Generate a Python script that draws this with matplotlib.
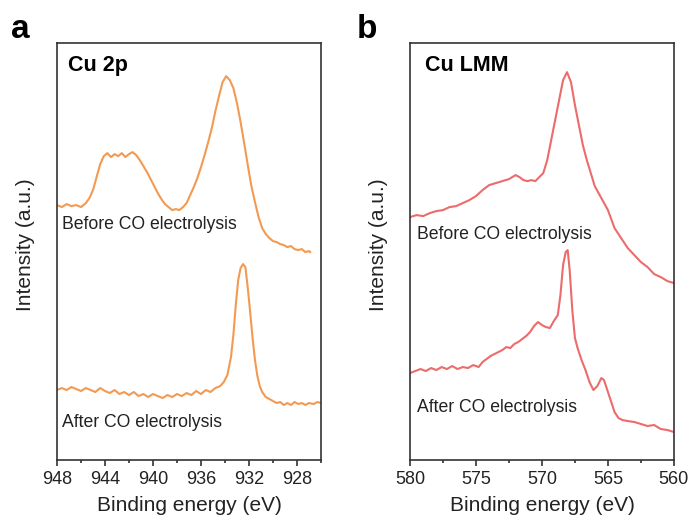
import numpy as np
import matplotlib.pyplot as plt
from matplotlib.ticker import MultipleLocator

plt.rcParams['font.family'] = ['Liberation Sans', 'DejaVu Sans']

# Cu 2p region, binding energy (eV) and intensity (a.u.)
cu2p_before_x = [948.0, 947.6, 947.2, 946.8, 946.4, 946.0, 945.6, 945.3, 945.0, 944.7,
                 944.4, 944.1, 943.8, 943.5, 943.2, 942.9, 942.6, 942.3, 942.0, 941.7,
                 941.4, 941.1, 940.8, 940.5, 940.2, 939.9, 939.6, 939.3, 939.0, 938.7,
                 938.4, 938.1, 937.8, 937.5, 937.2, 936.9, 936.6, 936.3, 936.0, 935.7,
                 935.4, 935.1, 934.8, 934.5, 934.2, 933.9, 933.6, 933.3, 933.0, 932.7,
                 932.4, 932.1, 931.8, 931.5, 931.2, 930.9, 930.6, 930.3, 930.0, 929.7,
                 929.4, 929.1, 928.8, 928.5, 928.2, 927.9, 927.6, 927.3, 927.0, 926.9]
cu2p_before_y = [255, 253, 256, 254, 255, 253, 257, 262, 270, 283,
                 296, 304, 307, 303, 306, 304, 307, 303, 306, 308,
                 305, 300, 294, 288, 281, 274, 267, 261, 256, 253,
                 250, 251, 250, 253, 257, 265, 273, 282, 293, 305,
                 318, 332, 349, 364, 378, 384, 380, 372, 357, 338,
                 317, 295, 274, 258, 243, 232, 226, 222, 219, 218,
                 216, 215, 213, 214, 211, 210, 211, 208, 209, 208]

cu2p_after_x = [948.0, 947.6, 947.2, 946.8, 946.4, 946.0, 945.6, 945.2, 944.8, 944.4,
                944.0, 943.6, 943.2, 942.8, 942.4, 942.0, 941.6, 941.2, 940.8, 940.4,
                940.0, 939.6, 939.2, 938.8, 938.4, 938.0, 937.6, 937.2, 936.8, 936.4,
                936.0, 935.6, 935.2, 934.8, 934.4, 934.1, 933.8, 933.5, 933.3, 933.1,
                932.9, 932.7, 932.5, 932.3, 932.1, 931.9, 931.7, 931.5, 931.3, 931.1,
                930.9, 930.6, 930.3, 930.0, 929.7, 929.4, 929.1, 928.8, 928.5, 928.2,
                927.9, 927.6, 927.3, 927.0, 926.6, 926.3, 926.0]
cu2p_after_y = [70, 72, 70, 73, 71, 69, 72, 70, 68, 72,
                69, 67, 70, 66, 68, 65, 68, 64, 66, 63,
                66, 64, 62, 65, 63, 66, 64, 67, 65, 69,
                66, 70, 68, 72, 74, 78, 85, 103, 125, 155,
                180, 192, 196, 193, 172, 148, 122, 100, 84, 74,
                68, 63, 61, 59, 57, 58, 55, 57, 55, 58,
                56, 57, 55, 57, 56, 58, 57]

# Cu LMM Auger region
lmm_before_x = [580.0, 579.5, 579.0, 578.5, 578.0, 577.5, 577.0, 576.5, 576.0, 575.5,
                575.0, 574.5, 574.0, 573.5, 573.0, 572.5, 572.0, 571.7, 571.4, 571.1,
                570.8, 570.5, 570.2, 569.9, 569.6, 569.3, 569.0, 568.7, 568.4, 568.1,
                567.8, 567.5, 567.2, 566.9, 566.6, 566.3, 566.0, 565.5, 565.0, 564.5,
                564.0, 563.5, 563.0, 562.5, 562.0, 561.5, 561.0, 560.5, 560.0]
lmm_before_y = [243, 245, 244, 247, 249, 250, 253, 254, 257, 260,
                264, 270, 275, 277, 279, 281, 285, 283, 280, 279,
                280, 279, 283, 287, 300, 320, 340, 360, 380, 388,
                378, 355, 335, 315, 300, 287, 274, 262, 250, 232,
                222, 212, 205, 198, 193, 186, 183, 179, 177]

lmm_after_x = [580.0, 579.6, 579.2, 578.8, 578.4, 578.0, 577.6, 577.2, 576.8, 576.4,
               576.0, 575.6, 575.2, 574.8, 574.5, 574.2, 573.9, 573.6, 573.3, 573.0,
               572.7, 572.4, 572.1, 571.8, 571.5, 571.2, 570.9, 570.6, 570.3, 570.0,
               569.7, 569.4, 569.1, 568.8, 568.6, 568.4, 568.2, 568.05, 567.9, 567.7,
               567.5, 567.3, 567.0, 566.7, 566.4, 566.1, 565.8, 565.5, 565.3, 565.1,
               564.8, 564.5, 564.2, 563.9, 563.5, 563.0, 562.5, 562.0, 561.5, 561.0,
               560.5, 560.0]
lmm_after_y = [87, 89, 91, 89, 92, 90, 93, 91, 94, 91,
               93, 92, 95, 93, 98, 101, 104, 106, 108, 110,
               113, 112, 116, 118, 121, 124, 128, 134, 138, 135,
               133, 132, 139, 145, 165, 195, 208, 210, 190, 150,
               122, 112, 100, 90, 78, 70, 74, 82, 80, 72,
               60, 48, 42, 40, 39, 38, 36, 34, 35, 31,
               30, 28]

orange = '#f39a52'
red = '#ec6b6b'

fig = plt.figure(figsize=(6.91, 5.25), dpi=100)
ax1 = fig.add_axes([0.0825, 0.1238, 0.382, 0.794])
ax2 = fig.add_axes([0.5933, 0.1238, 0.382, 0.794])

ax1.plot(cu2p_before_x, cu2p_before_y, color=orange, lw=1.5)
ax1.plot(cu2p_after_x, cu2p_after_y, color=orange, lw=1.5)
ax1.set_xlim(948, 926)
ax1.xaxis.set_major_locator(MultipleLocator(4))
ax1.xaxis.set_minor_locator(MultipleLocator(2))

ax2.plot(lmm_before_x, lmm_before_y, color=red, lw=1.5)
ax2.plot(lmm_after_x, lmm_after_y, color=red, lw=1.5)
ax2.set_xlim(580, 560)
ax2.xaxis.set_major_locator(MultipleLocator(5))
ax2.xaxis.set_minor_locator(MultipleLocator(2.5))

for ax in (ax1, ax2):
    ax.set_ylim(0, 417)
    ax.set_yticks([])
    for s in ax.spines.values():
        s.set_linewidth(1.2)
        s.set_color('#333333')
    ax.tick_params(axis='x', which='major', length=4, width=1.2, color='#333333',
                   labelsize=13, pad=4, labelcolor='#222222')
    ax.tick_params(axis='x', which='minor', length=2.5, width=1.2, color='#333333')
    ax.set_xlabel('Binding energy (eV)', fontsize=15, color='#222222', labelpad=6)
    ax.set_ylabel('Intensity (a.u.)', fontsize=15, color='#222222')
    ax.yaxis.set_label_coords(-0.085, 0.516)

ax1.text(0.042, 0.947, 'Cu 2p', transform=ax1.transAxes, fontsize=15.5,
         fontweight='bold', va='center')
ax2.text(0.057, 0.947, 'Cu LMM', transform=ax2.transAxes, fontsize=15.5,
         fontweight='bold', va='center')

ax1.text(0.02, 0.564, 'Before CO electrolysis', transform=ax1.transAxes,
         fontsize=12.7, va='center', color='#222222')
ax1.text(0.02, 0.091, 'After CO electrolysis', transform=ax1.transAxes,
         fontsize=12.7, va='center', color='#222222')
ax2.text(0.027, 0.54, 'Before CO electrolysis', transform=ax2.transAxes,
         fontsize=12.7, va='center', color='#222222')
ax2.text(0.027, 0.127, 'After CO electrolysis', transform=ax2.transAxes,
         fontsize=12.7, va='center', color='#222222')

fig.text(0.029, 0.943, 'a', fontsize=24, fontweight='bold', ha='center', va='center')
fig.text(0.531, 0.943, 'b', fontsize=24, fontweight='bold', ha='center', va='center')

fig.savefig('out.png', dpi=100)
